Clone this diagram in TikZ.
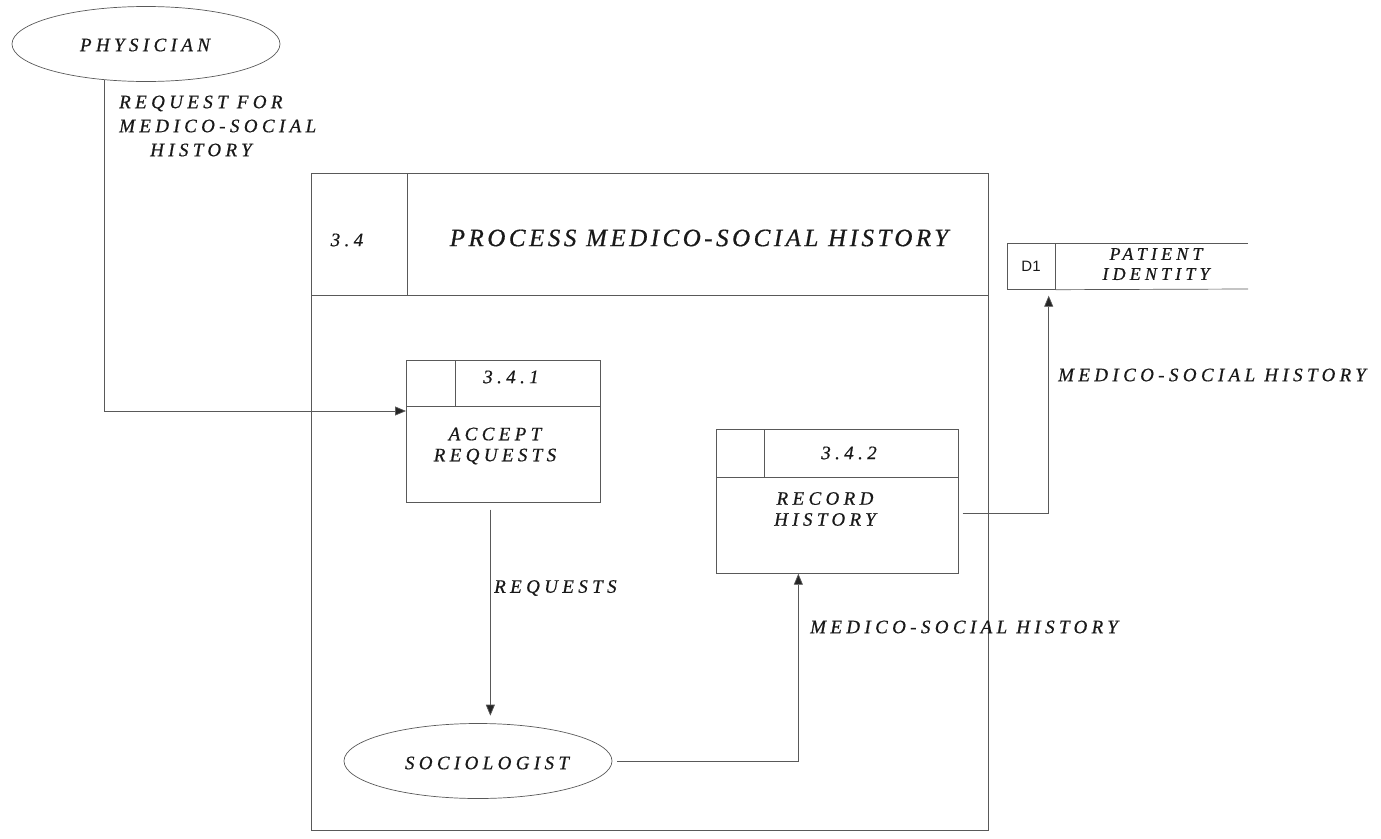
\documentclass[tikz,border=0pt]{standalone}
\usepackage{fontspec}
\setmainfont{Liberation Serif}
\newfontfamily\dfont[LetterSpace=23, FakeBold=0.6]{Liberation Serif}
\newfontfamily\tfont[LetterSpace=14, FakeBold=0.6]{Liberation Serif}
\newfontfamily\sfont{Liberation Sans}
\usetikzlibrary{arrows.meta,shapes.geometric}
\begin{document}
\begin{tikzpicture}[x=1pt,y=-1pt,
  ln/.style={draw=black!65, line width=0.7pt},
  arr/.style={ln, -{Triangle[length=11pt,width=9pt,fill=black!85]}},
  box/.style={ln, rectangle, anchor=north west, inner sep=0pt},
  ell/.style={ln, ellipse, inner sep=0pt, minimum width=268pt, minimum height=75pt},
  lbl/.style={font=\dfont\itshape\fontsize{19}{21}\selectfont, text=black!90, align=center, inner sep=0pt},
  ttl/.style={font=\tfont\itshape\fontsize{25}{28}\selectfont, text=black!90, inner sep=0pt},
  num/.style={font=\dfont\itshape\fontsize{19}{21}\selectfont, text=black!90, inner sep=0pt},
]
\useasboundingbox (0,0) rectangle (1381,838);

% external entity
\node[ell] (phys) at (146,44) {};
\node[lbl] (physT) at (145,45) {PHYSICIAN};

% outer process 3.4
\node[box, minimum width=677pt, minimum height=657pt] (p34) at (311,173) {};
\draw[ln] (311,295) -- (988,295);
\draw[ln] (407,173) -- (407,295);
\node[num] (p34n) at (347,240) {3.4};
\node[ttl] (p34t) at (699,238) {PROCESS MEDICO-SOCIAL HISTORY};

% process 3.4.1
\node[box, minimum width=194pt, minimum height=142pt] (p341) at (406,360) {};
\draw[ln] (406,406) -- (600,406);
\draw[ln] (455,360) -- (455,406);
\node[num] (p341n) at (511,377) {3.4.1};
\node[lbl] (p341t) at (495,446) {ACCEPT\\REQUESTS};

% process 3.4.2
\node[box, minimum width=242pt, minimum height=144pt] (p342) at (716,429) {};
\draw[ln] (716,477) -- (958,477);
\draw[ln] (764,429) -- (764,477);
\node[num] (p342n) at (849,453) {3.4.2};
\node[lbl] (p342t) at (825,509) {RECORD\\HISTORY};

% sociologist
\node[ell] (socio) at (478,761) {};
\node[lbl] (socioT) at (487,763) {SOCIOLOGIST};

% data store D1
\node[box, minimum width=48pt, minimum height=46pt] (d1) at (1007,243) {};
\node[font=\sfont\fontsize{15}{17}\selectfont, text=black!90] (d1n) at (1031,266) {D1};
\draw[ln] (d1.north east) -- (1248,243);
\draw[ln] (d1.south east) -- (1248,289);
\node[lbl, font=\dfont\itshape\fontsize{18}{20}\selectfont] (d1t) at (1156,264) {PATIENT\\IDENTITY};

% flows
\coordinate (a1) at (104,80);
\draw[arr] (a1) |- ([yshift=-51pt]p341.north west);
\node[lbl, align=left, anchor=west, font=\dfont\itshape\fontsize{19}{24}\selectfont] (f1) at (119,126) {REQUEST FOR\\MEDICO-SOCIAL\\\hspace*{31pt}HISTORY};

\draw[arr] ([xshift=-13pt,yshift=-7pt]p341.south) -- ++(0,206);
\node[lbl, anchor=west] (f2) at (494,588) {REQUESTS};

\draw[arr] ([xshift=5pt]socio.east) -| ([xshift=-39pt]p342.south);
\node[lbl, anchor=west] (f3) at (810,627) {MEDICO-SOCIAL HISTORY};

\draw[arr] ([xshift=4pt,yshift=-84pt]p342.north east) -| ([xshift=-7pt,yshift=-6pt]d1.south east);
\node[lbl, anchor=west] (f4) at (1058,375) {MEDICO-SOCIAL HISTORY};
\end{tikzpicture}
\end{document}
